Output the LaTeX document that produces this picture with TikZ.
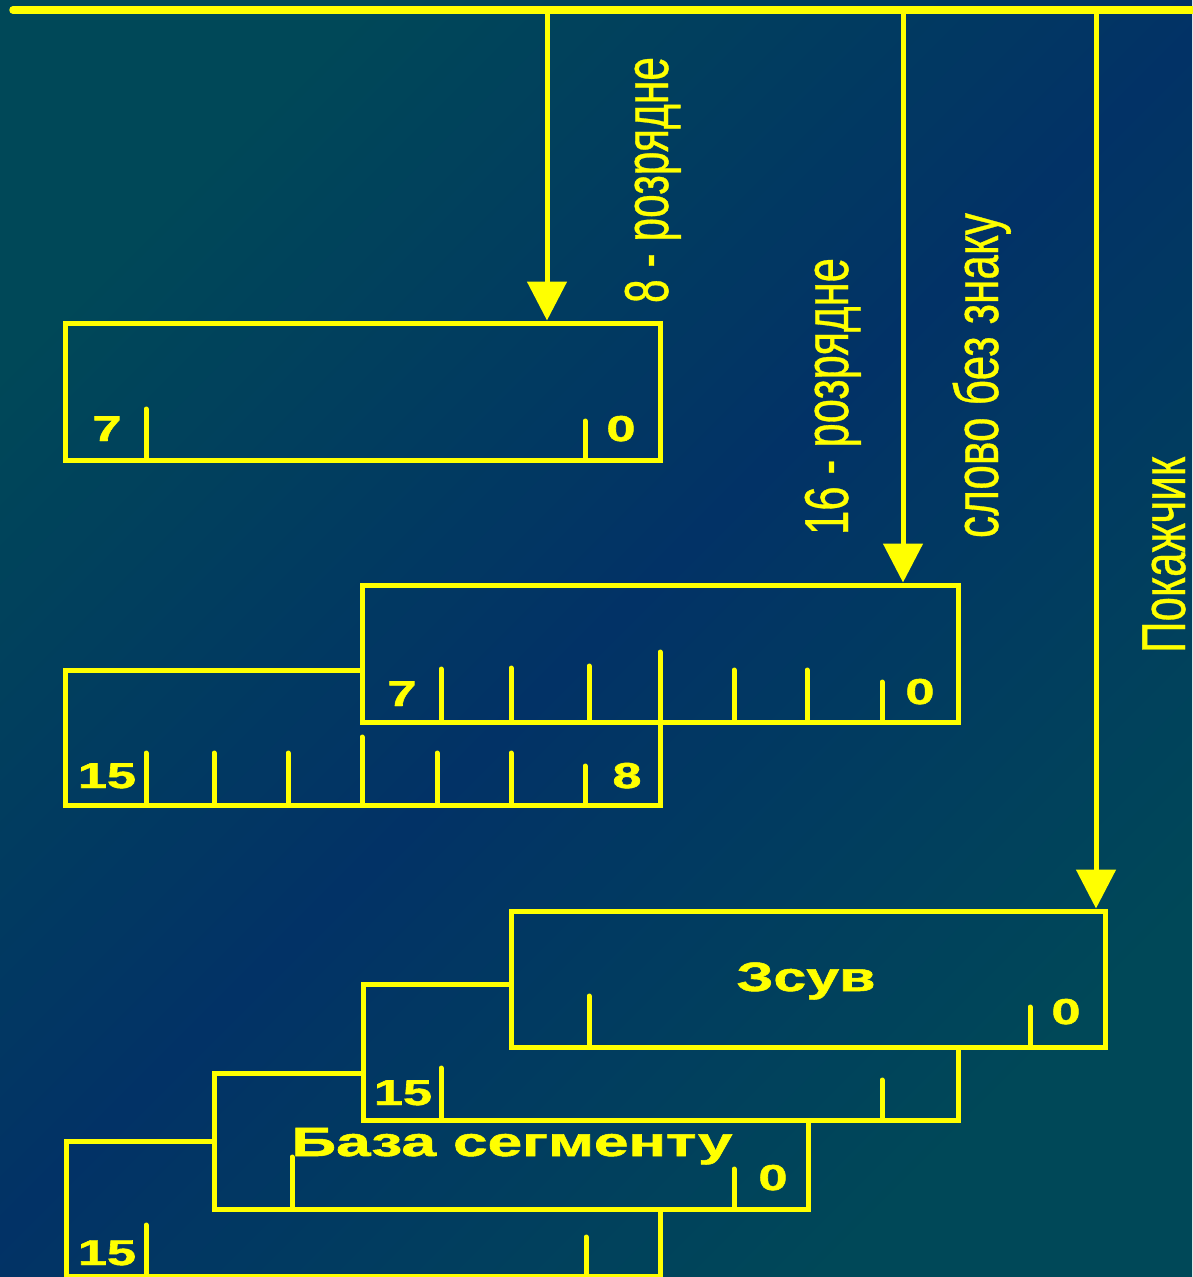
\documentclass[tikz,border=0pt]{standalone}
\usepackage{fontspec}
\setmainfont{Liberation Sans}
\newfontfamily\slideplain[FakeBold=0.7]{Liberation Sans}
\newfontfamily\slidebold[FakeBold=1.2]{Liberation Sans Bold}
\usetikzlibrary{arrows.meta}
\definecolor{wireyellow}{RGB}{255,255,0}
\definecolor{slideteal}{RGB}{0,72,88}
\definecolor{slideblue}{RGB}{2,50,102}

\begin{document}
\begin{tikzpicture}[x=1pt, y=-1pt,
    wire/.style={wireyellow, line width=5pt},
    bus/.style={wireyellow, line width=7.5pt, line cap=round},
    feed/.style={wire, -{Triangle[width=39pt, length=39pt]}},
    regbox/.style={draw=wireyellow, line width=5pt, inner sep=0pt, minimum height=137pt},
    outline/.style={wire, line join=miter},
    tick/.style={wire, line cap=round},
    sidelabel/.style={wireyellow, rotate=90, anchor=base, inner sep=0pt, font=\slideplain\fontsize{62}{62}\selectfont},
    fieldlabel/.style={wireyellow, anchor=base, inner sep=0pt, font=\slidebold\fontsize{41}{41}\selectfont},
    bitlabel/.style={wireyellow, anchor=base, inner sep=0pt, font=\slidebold\fontsize{36}{36}\selectfont}]
  % A bit mark: #1 = x, #2 = upper end, #3 = lower end (bottom edge of the register).
  \newcommand{\bittick}[3]{\draw[tick] (#1,#2) -- (#1,#3);}
  % A bit number, stretched wide like the rest of the slide.
  \newcommand{\bitnum}[1]{\scalebox{1.45}[1]{#1}}

  \useasboundingbox (0,0) rectangle (1192,1277);
  \shade[top color=slideteal, bottom color=slideteal, middle color=slideblue, shading angle=45]
    (0,0) rectangle (1192,1277);

  % data bus along the top, with the three taps
  \coordinate (busL) at (13,10);
  \coordinate (busR) at (1200,10);
  \coordinate (tap8) at (547,10);
  \coordinate (tap16) at (903,10);
  \coordinate (tapptr) at (1096,10);
  \draw[bus] (busL) -- (busR);

  % 8-bit operand
  \node[regbox, minimum width=595pt] (byte) at (362.5,391.5) {};
  \draw[feed] (tap8) -- (tap8 |- byte.north);
  \bittick{146}{409}{460}
  \bittick{585}{421}{460}
  \node[bitlabel] (byte7) at (107,441) {\bitnum{7}};
  \node[bitlabel] (byte0) at (621,441) {\bitnum{0}};
  \node[sidelabel] (lab8) at (668,180) {\resizebox{246pt}{\height}{8 - розрядне}};

  % 16-bit word: low byte in front, high byte behind it
  \node[regbox, minimum width=596pt] (wordlo) at (660,653.5) {};
  \draw[feed] (tap16) -- (tap16 |- wordlo.north);
  \draw[outline] (362,670) -- (65,670) -- (65,805) -- (660,805) -- (660,722);
  \bittick{441}{669}{722}
  \bittick{511}{668}{722}
  \bittick{589}{666}{722}
  \bittick{660}{652}{722}
  \bittick{734}{670}{722}
  \bittick{807}{670}{722}
  \bittick{882}{682}{722}
  \bittick{146}{753}{805}
  \bittick{214}{753}{805}
  \bittick{288}{753}{805}
  \bittick{362}{737}{805}
  \bittick{437}{753}{805}
  \bittick{511}{753}{805}
  \bittick{585}{766}{805}
  \node[bitlabel] (wordlo7) at (402,706) {\bitnum{7}};
  \node[bitlabel] (wordlo0) at (920,704) {\bitnum{0}};
  \node[bitlabel] (wordhi15) at (107,788) {\bitnum{15}};
  \node[bitlabel] (wordhi8) at (627,788) {\bitnum{8}};
  \node[sidelabel] (lab16) at (848,396.5) {\resizebox{277pt}{\height}{16 - розрядне}};
  \node[sidelabel] (labword) at (998,375.5) {\resizebox{325pt}{\height}{слово без знаку}};

  % far pointer: offset word in front, segment base word behind it
  \node[regbox, minimum width=594pt, minimum height=136pt] (offset) at (808,979) {};
  \draw[feed] (tapptr) -- (tapptr |- offset.north);
  \bittick{589}{996}{1047}
  \bittick{1030}{1007}{1047}
  \draw[outline] (511,984) -- (363,984) -- (363,1120) -- (958,1120) -- (958,1047);
  \bittick{441}{1068}{1120}
  \bittick{882}{1080}{1120}
  \draw[outline] (363,1073) -- (214,1073) -- (214,1209) -- (808,1209) -- (808,1120);
  \bittick{292}{1157}{1209}
  \bittick{734}{1169}{1209}
  \draw[outline] (214,1141) -- (66,1141) -- (66,1276) -- (660,1276) -- (660,1209);
  \bittick{146}{1225}{1276}
  \bittick{586}{1237}{1276}
  \node[fieldlabel] (labofs) at (806,991) {\resizebox{139pt}{\height}{Зсув}};
  \node[fieldlabel] (labbase) at (512,1156) {\resizebox{441pt}{\height}{База сегменту}};
  \node[bitlabel] (offset0) at (1066,1024) {\bitnum{0}};
  \node[bitlabel] (offset15) at (403,1105) {\bitnum{15}};
  \node[bitlabel] (base0) at (773,1190) {\bitnum{0}};
  \node[bitlabel] (base15) at (107,1265) {\bitnum{15}};
  \node[sidelabel] (labptr) at (1185,555) {\resizebox{196pt}{\height}{Покажчик}};
\end{tikzpicture}
\end{document}
